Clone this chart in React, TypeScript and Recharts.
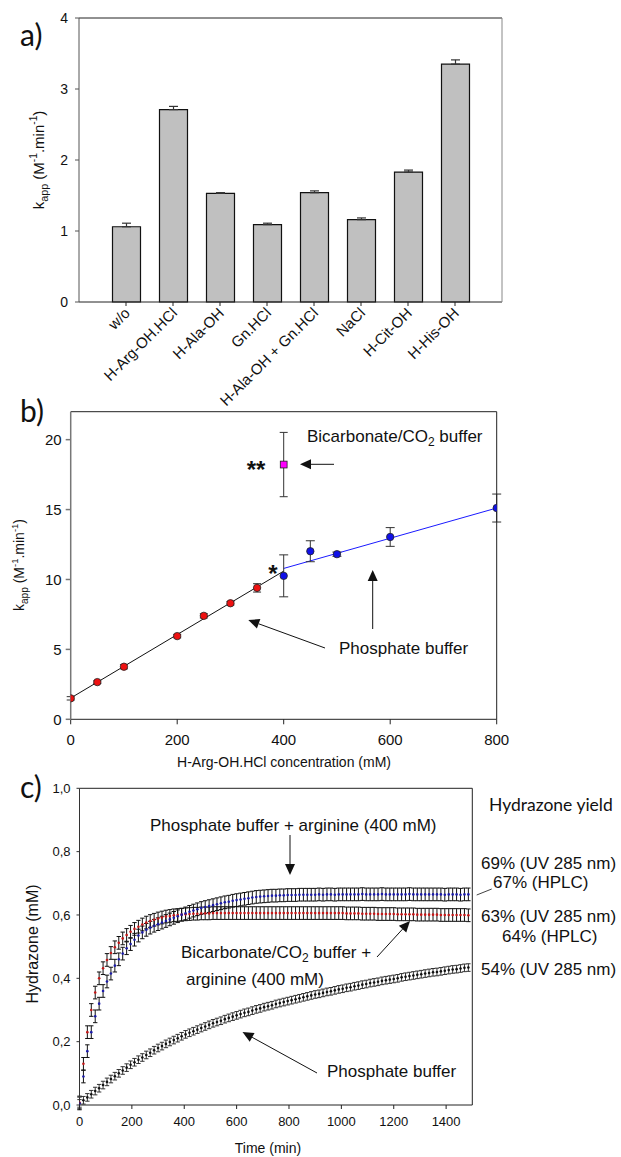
import React from 'react'
import {
  BarChart,
  Bar,
  ComposedChart,
  Line,
  Scatter,
  XAxis,
  YAxis,
  ErrorBar,
} from 'recharts'

const FONT = '"Liberation Sans", Arial, sans-serif'
const LETTER_FONT = 'Lato, "Open Sans", sans-serif'

// a) kapp per additive
const additives = ['w/o', 'H-Arg-OH.HCl', 'H-Ala-OH', 'Gn.HCl', 'H-Ala-OH + Gn.HCl', 'NaCl', 'H-Cit-OH', 'H-His-OH']
const kappAdditive = [1.06, 2.71, 1.53, 1.09, 1.54, 1.16, 1.83, 3.35]
const kappAdditiveErr = [0.05, 0.045, 0.01, 0.02, 0.025, 0.024, 0.028, 0.06]
const ticksA = [0, 1, 2, 3, 4]

// b) kapp vs arginine concentration
const concPhos = [0, 50, 100, 200, 250, 300, 350]
const kappPhos = [1.5, 2.66, 3.76, 5.95, 7.4, 8.3, 9.4]
const kappPhosErr = [0.12, 0.1, 0.15, 0.12, 0.15, 0.12, 0.3]
const concArg = [400, 450, 500, 600, 800]
const kappArg = [10.26, 12.02, 11.81, 13.04, 15.11]
const kappArgErr = [1.5, 0.75, 0.15, 0.67, 1.0]
const concBic = [400]
const kappBic = [18.22]
const kappBicErr = [2.3]
const fitPhosX = [0, 400]
const fitPhosY = [1.52, 10.6]
const fitArgX = [400, 800]
const fitArgY = [10.79, 15.11]
const ticksBX = [0, 200, 400, 600, 800]
const ticksBY = [0, 5, 10, 15, 20]

// c) hydrazone kinetics
const timeMin = [
  0, 15, 30, 45, 60, 75, 90, 105, 120, 135,
  150, 165, 180, 195, 210, 225, 240, 255, 270, 285,
  300, 315, 330, 345, 360, 375, 390, 405, 420, 435,
  450, 465, 480, 495, 510, 525, 540, 555, 570, 585,
  600, 615, 630, 645, 660, 675, 690, 705, 720, 735,
  750, 765, 780, 795, 810, 825, 840, 855, 870, 885,
  900, 915, 930, 945, 960, 975, 990, 1005, 1020, 1035,
  1050, 1065, 1080, 1095, 1110, 1125, 1140, 1155, 1170, 1185,
  1200, 1215, 1230, 1245, 1260, 1275, 1290, 1305, 1320, 1335,
  1350, 1365, 1380, 1395, 1410, 1425, 1440, 1455, 1470, 1485,
]
const hydArg = [
  0.005, 0.09, 0.17, 0.23, 0.28, 0.32, 0.36, 0.39, 0.415, 0.44,
  0.46, 0.478, 0.495, 0.508, 0.522, 0.535, 0.545, 0.553, 0.56, 0.566,
  0.571, 0.576, 0.581, 0.586, 0.591, 0.596, 0.601, 0.605, 0.61, 0.614,
  0.618, 0.622, 0.625, 0.628, 0.631, 0.634, 0.637, 0.64, 0.642, 0.645,
  0.647, 0.649, 0.651, 0.653, 0.655, 0.657, 0.658, 0.659, 0.66, 0.661,
  0.661, 0.662, 0.662, 0.663, 0.663, 0.663, 0.664, 0.664, 0.664, 0.664,
  0.664, 0.665, 0.664, 0.665, 0.665, 0.664, 0.665, 0.665, 0.665, 0.665,
  0.665, 0.665, 0.666, 0.665, 0.665, 0.665, 0.665, 0.666, 0.665, 0.665,
  0.665, 0.665, 0.665, 0.665, 0.666, 0.665, 0.665, 0.665, 0.665, 0.665,
  0.665, 0.665, 0.665, 0.664, 0.665, 0.665, 0.665, 0.664, 0.665, 0.665,
]
const hydBic = [
  0.008, 0.13, 0.23, 0.3, 0.355, 0.4, 0.432, 0.458, 0.48, 0.498,
  0.512, 0.526, 0.537, 0.547, 0.556, 0.563, 0.57, 0.576, 0.581, 0.585,
  0.589, 0.592, 0.595, 0.597, 0.599, 0.6, 0.601, 0.602, 0.603, 0.604,
  0.604, 0.605, 0.605, 0.605, 0.606, 0.606, 0.606, 0.606, 0.606, 0.606,
  0.606, 0.606, 0.606, 0.606, 0.606, 0.606, 0.606, 0.606, 0.606, 0.606,
  0.606, 0.606, 0.606, 0.606, 0.606, 0.606, 0.606, 0.606, 0.606, 0.606,
  0.606, 0.606, 0.606, 0.606, 0.606, 0.606, 0.606, 0.606, 0.605, 0.605,
  0.605, 0.605, 0.604, 0.604, 0.604, 0.604, 0.603, 0.603, 0.603, 0.603,
  0.603, 0.602, 0.602, 0.602, 0.602, 0.602, 0.601, 0.601, 0.601, 0.601,
  0.601, 0.601, 0.6, 0.6, 0.6, 0.6, 0.6, 0.6, 0.6, 0.599,
]
const hydPhos = [
  0.005, 0.015, 0.024, 0.034, 0.044, 0.053, 0.063, 0.073, 0.082, 0.091,
  0.1, 0.109, 0.118, 0.127, 0.135, 0.143, 0.15, 0.158, 0.165, 0.173,
  0.18, 0.186, 0.193, 0.199, 0.205, 0.211, 0.217, 0.223, 0.228, 0.233,
  0.238, 0.243, 0.248, 0.253, 0.258, 0.262, 0.266, 0.271, 0.275, 0.279,
  0.283, 0.287, 0.291, 0.294, 0.298, 0.302, 0.305, 0.309, 0.312, 0.315,
  0.319, 0.322, 0.325, 0.328, 0.331, 0.334, 0.337, 0.34, 0.343, 0.346,
  0.349, 0.351, 0.354, 0.357, 0.359, 0.362, 0.365, 0.367, 0.37, 0.372,
  0.375, 0.377, 0.38, 0.382, 0.385, 0.387, 0.389, 0.392, 0.394, 0.396,
  0.398, 0.4, 0.403, 0.405, 0.407, 0.409, 0.411, 0.413, 0.415, 0.417,
  0.419, 0.42, 0.422, 0.424, 0.426, 0.428, 0.429, 0.431, 0.433, 0.434,
]
// error per series: phosphate, bicarbonate + arg, phosphate + arg
const hydErr = [0.012, 0.02, 0.02]
const ticksCX = [0, 200, 400, 600, 800, 1000, 1200, 1400]
const ticksCY = [0, 0.2, 0.4, 0.6, 0.8, 1.0]

const barRows = additives.map((name, i) => ({
  name,
  k: kappAdditive[i],
  err: [0, kappAdditiveErr[i]],
}))
const toPts = (xs: number[], ys: number[], es?: number[]) =>
  xs.map((x, i) => ({ x, y: ys[i], err: es ? es[i] : 0 }))
const toKin = (ys: number[], e: number) => timeMin.map((t, i) => ({ x: t, y: ys[i], err: e }))

const tickStyle = (size: number) => ({ fontSize: size, fill: '#111', fontFamily: FONT })

const RotTick = ({ x, y, payload }: any) => {
  const ax = x + 5
  const ay = y + 6
  return (
    <text
      x={ax}
      y={ay}
      transform={`rotate(-45, ${ax}, ${ay})`}
      textAnchor="end"
      fontSize={15}
      fontFamily={FONT}
      fill="#111"
    >
      {payload.value}
    </text>
  )
}

const dotShape = (r: number, fill: string, stroke?: string) => (p: any) =>
  <circle cx={p.cx} cy={p.cy} r={r} fill={fill} stroke={stroke || 'none'} strokeWidth={0.8} />

const squareShape = (p: any) =>
  <rect x={p.cx - 3.4} y={p.cy - 3.4} width={6.8} height={6.8} fill="#ff00ff" stroke="#222" strokeWidth={0.8} />

function Arrow({ x1, y1, x2, y2, head = 11, half = 5 }: any) {
  const dx = x2 - x1
  const dy = y2 - y1
  const len = Math.hypot(dx, dy)
  const ux = dx / len
  const uy = dy / len
  const bx = x2 - ux * head
  const by = y2 - uy * head
  const pts = `${x2},${y2} ${bx - uy * half},${by + ux * half} ${bx + uy * half},${by - ux * half}`
  return (
    <g>
      <line x1={x1} y1={y1} x2={bx} y2={by} stroke="#111" strokeWidth={1} />
      <polygon points={pts} fill="#111" />
    </g>
  )
}

function KappLabel({ x, y, size }: any) {
  return (
    <text
      transform={`translate(${x},${y}) rotate(-90)`}
      textAnchor="middle"
      fontSize={size}
      fontFamily={FONT}
      fill="#111"
    >
      k
      <tspan fontSize={size * 0.72} dy={size * 0.3}>app</tspan>
      <tspan dy={-size * 0.3}> (M</tspan>
      <tspan fontSize={size * 0.68} dy={-size * 0.42}>-1</tspan>
      <tspan dy={size * 0.42}>.min</tspan>
      <tspan fontSize={size * 0.68} dy={-size * 0.42}>-1</tspan>
      <tspan dy={size * 0.42}>)</tspan>
    </text>
  )
}

function Overlay() {
  const t = { fontFamily: FONT, fill: '#111', fontSize: 17 }
  const letter = { fontFamily: LETTER_FONT, fill: '#111', fontSize: 30 }
  return (
    <svg width={621} height={1157} style={{ position: 'absolute', left: 0, top: 0, pointerEvents: 'none' }}>
      {/* panel letters */}
      <text x={20} y={46} {...letter}>a)</text>
      <text x={20} y={422} {...letter}>b)</text>
      <text x={20} y={798} {...letter}>c)</text>

      {/* axis titles */}
      <KappLabel x={43.5} y={160} size={15} />
      <KappLabel x={24} y={565} size={14} />
      <text x={284} y={767} textAnchor="middle" fontSize={14} fontFamily={FONT} fill="#111">
        H-Arg-OH.HCl concentration (mM)
      </text>
      <text transform="translate(38,944) rotate(-90)" textAnchor="middle" fontSize={16} fontFamily={FONT} fill="#111">
        Hydrazone (mM)
      </text>
      <text x={268} y={1153} textAnchor="middle" fontSize={14} fontFamily={FONT} fill="#111">
        Time (min)
      </text>

      {/* b annotations */}
      <text x={307} y={442} {...t}>
        Bicarbonate/CO<tspan dy={4} fontSize={12}>2</tspan><tspan dy={-4}> buffer</tspan>
      </text>
      <text x={256} y={478} textAnchor="middle" fontSize={24} fontWeight="bold" fontFamily={FONT} fill="#111">**</text>
      <text x={273} y={582} textAnchor="middle" fontSize={24} fontWeight="bold" fontFamily={FONT} fill="#111">*</text>
      <Arrow x1={334} y1={464.3} x2={300} y2={464.3} />
      <text x={339} y={654} {...t}>Phosphate buffer</text>
      <Arrow x1={372.7} y1={629} x2={372.7} y2={570} />
      <Arrow x1={325} y1={648} x2={248.3} y2={620} />

      {/* c annotations */}
      <text x={150} y={831} {...t}>Phosphate buffer + arginine (400 mM)</text>
      <Arrow x1={290} y1={835} x2={290} y2={875} />
      <text x={489} y={811} fontSize={17.5} fontFamily={LETTER_FONT} fill="#111">Hydrazone yield</text>
      <text x={481} y={869} {...t}>69% (UV 285 nm)</text>
      <text x={493} y={888} {...t}>67% (HPLC)</text>
      <line x1={476.7} y1={895} x2={491.7} y2={889} stroke="#111" strokeWidth={0.8} />
      <text x={481} y={922} {...t}>63% (UV 285 nm)</text>
      <text x={502} y={942} {...t}>64% (HPLC)</text>
      <text x={481} y={975} {...t}>54% (UV 285 nm)</text>
      <text x={181} y={958} {...t}>
        Bicarbonate/CO<tspan dy={4} fontSize={12}>2</tspan><tspan dy={-4}> buffer +</tspan>
      </text>
      <text x={186} y={985} {...t}>arginine (400 mM)</text>
      <Arrow x1={377} y1={957} x2={410} y2={921} />
      <text x={327} y={1077} {...t}>Phosphate buffer</text>
      <Arrow x1={317} y1={1073} x2={242.5} y2={1032} />
    </svg>
  )
}

export default function App() {
  return (
    <div style={{ position: 'absolute', left: 0, top: 0, width: 621, height: 1157, background: '#fff' }}>
      {/* a) */}
      <div style={{ position: 'absolute', left: 0, top: 0 }}>
        <BarChart width={621} height={420} data={barRows} margin={{ top: 17, right: 118, bottom: 0, left: 0 }}>
          <XAxis
            dataKey="name"
            interval={0}
            padding={{ left: 23.5, right: 23.5 }}
            tick={<RotTick />}
            tickSize={4}
            height={118}
            stroke="#222"
          />
          <XAxis xAxisId="top" dataKey="name" orientation="top" height={1} tick={false} tickLine={false} stroke="#222" />
          <YAxis
            domain={[0, 4]}
            ticks={ticksA}
            width={79}
            tickSize={4}
            tickMargin={7}
            stroke="#555"
            tick={tickStyle(14)}
          />
          <YAxis yAxisId="right" orientation="right" domain={[0, 4]} width={1} tick={false} tickLine={false} stroke="#888" />
          <Bar dataKey="k" barSize={28} fill="#c0c0c0" stroke="#111" strokeWidth={1.2} isAnimationActive={false}>
            <ErrorBar dataKey="err" width={4.5} stroke="#333" strokeWidth={1.2} />
          </Bar>
        </BarChart>
      </div>

      {/* b) */}
      <div style={{ position: 'absolute', left: 0, top: 380 }}>
        <ComposedChart width={621} height={400} margin={{ top: 30.7, right: 123.3, bottom: 0, left: 0 }}>
          <XAxis
            type="number"
            dataKey="x"
            domain={[0, 800]}
            ticks={ticksBX}
            height={60.7}
            tickSize={5}
            tickMargin={10}
            stroke="#222"
            tick={tickStyle(15)}
            allowDataOverflow
          />
          <XAxis xAxisId="top" type="number" orientation="top" domain={[0, 800]} height={1} tick={false} tickLine={false} stroke="#222" />
          <YAxis
            type="number"
            domain={[0, 22]}
            ticks={ticksBY}
            width={70.7}
            tickSize={5}
            tickMargin={4}
            stroke="#777"
            strokeWidth={1.5}
            tick={tickStyle(15)}
            allowDataOverflow
          />
          <YAxis yAxisId="right" orientation="right" domain={[0, 22]} width={1} tick={false} tickLine={false} stroke="#222" />
          <Line data={toPts(fitPhosX, fitPhosY)} dataKey="y" stroke="#111" strokeWidth={1} dot={false} isAnimationActive={false} />
          <Line data={toPts(fitArgX, fitArgY)} dataKey="y" stroke="#1a1aff" strokeWidth={1} dot={false} isAnimationActive={false} />
          <Scatter data={toPts(concPhos, kappPhos, kappPhosErr)} dataKey="y" shape={dotShape(3.7, '#ee1111', '#222')} isAnimationActive={false}>
            <ErrorBar dataKey="err" direction="y" width={4} stroke="#333" strokeWidth={1} />
          </Scatter>
          <Scatter data={toPts(concArg, kappArg, kappArgErr)} dataKey="y" shape={dotShape(3.7, '#1010e8', '#222')} isAnimationActive={false}>
            <ErrorBar dataKey="err" direction="y" width={4.5} stroke="#333" strokeWidth={1} />
          </Scatter>
          <Scatter data={toPts(concBic, kappBic, kappBicErr)} dataKey="y" shape={squareShape} isAnimationActive={false}>
            <ErrorBar dataKey="err" direction="y" width={4} stroke="#333" strokeWidth={1} />
          </Scatter>
        </ComposedChart>
      </div>

      {/* c) */}
      <div style={{ position: 'absolute', left: 0, top: 760 }}>
        <ComposedChart width={621} height={397} margin={{ top: 27.3, right: 147.7, bottom: 0, left: 0 }}>
          <XAxis
            type="number"
            dataKey="x"
            domain={[0, 1500]}
            ticks={ticksCX}
            height={52}
            tickSize={4}
            tickMargin={8}
            stroke="#222"
            tick={tickStyle(13)}
            allowDataOverflow
          />
          <XAxis xAxisId="top" type="number" orientation="top" domain={[0, 1500]} height={1} tick={false} tickLine={false} stroke="#222" />
          <YAxis
            type="number"
            domain={[0, 1]}
            ticks={ticksCY}
            width={79.5}
            tickSize={3}
            tickMargin={6}
            stroke="#333"
            tick={tickStyle(13)}
            tickFormatter={(v: number) => v.toFixed(1).replace('.', ',')}
            allowDataOverflow
          />
          <YAxis yAxisId="right" orientation="right" domain={[0, 1]} width={1} tick={false} tickLine={false} stroke="#222" />
          <Scatter data={toKin(hydPhos, hydErr[0])} dataKey="y" shape={dotShape(1.3, '#111')} isAnimationActive={false}>
            <ErrorBar dataKey="err" direction="y" width={2.2} stroke="#333" strokeWidth={1} />
          </Scatter>
          <Scatter data={toKin(hydBic, hydErr[1])} dataKey="y" shape={dotShape(1.3, '#c41818')} isAnimationActive={false}>
            <ErrorBar dataKey="err" direction="y" width={2.2} stroke="#111" strokeWidth={1} />
          </Scatter>
          <Scatter data={toKin(hydArg, hydErr[2])} dataKey="y" shape={dotShape(1.3, '#1c1ca8')} isAnimationActive={false}>
            <ErrorBar dataKey="err" direction="y" width={2.2} stroke="#111" strokeWidth={1} />
          </Scatter>
        </ComposedChart>
      </div>

      <Overlay />
    </div>
  )
}
